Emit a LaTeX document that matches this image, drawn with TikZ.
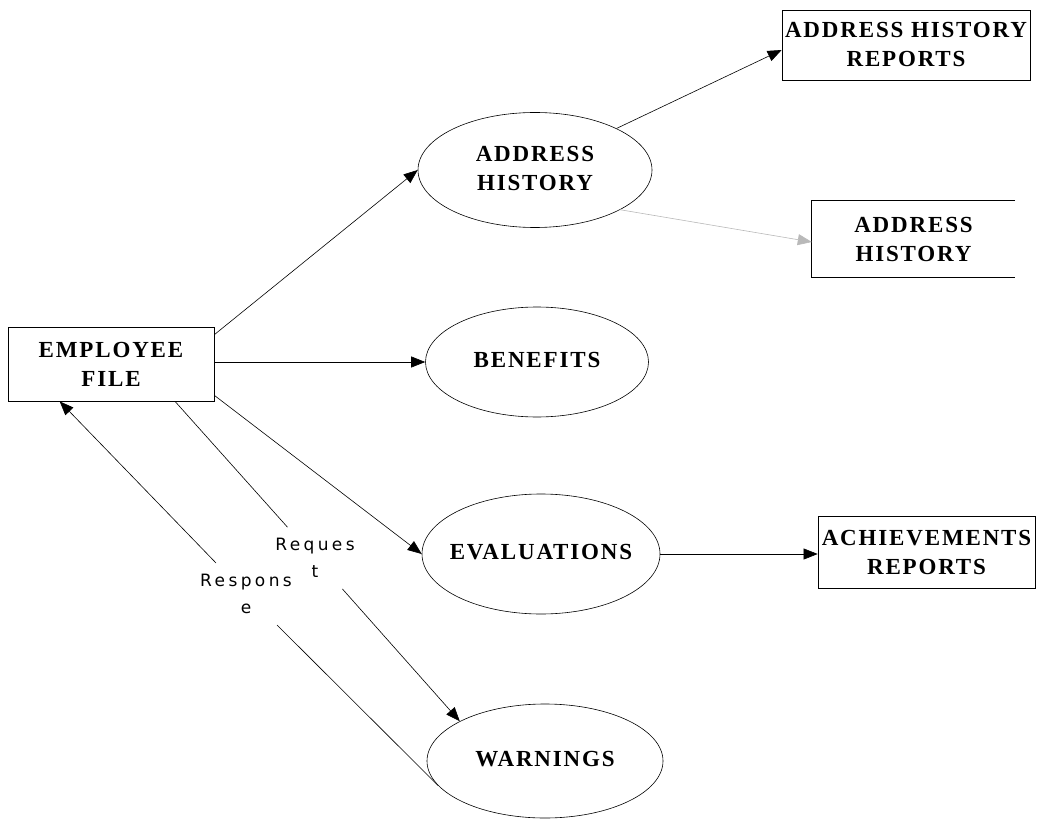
\documentclass[tikz,border=0pt]{standalone}
\usepackage{fontspec}
\usetikzlibrary{arrows.meta,shapes.geometric,calc}
\newfontfamily\boxfont{Liberation Serif}[LetterSpace=8]
\newfontfamily\lblfont{DejaVu Sans}[LetterSpace=20]
\newcommand\zbox[1]{\makebox[0pt]{\begin{tabular}{@{}c@{}}#1\end{tabular}}}
\tikzset{
  txt/.style={font=\boxfont\bfseries\fontsize{23}{29}\selectfont},
  ent/.style={txt, draw, line width=0.7pt, rectangle, inner sep=0pt, align=center},
  store/.style={txt, rectangle, inner sep=0pt, align=center},
  proc/.style={txt, draw, line width=0.6pt, ellipse, inner sep=0pt},
  flow/.style={line width=0.6pt, -{Triangle[length=14pt,width=11pt]}},
  plain/.style={line width=0.6pt},
  lbl/.style={font=\lblfont\fontsize{17}{27}\selectfont, align=center, inner xsep=2pt, inner ysep=11pt}
}
\begin{document}
\begin{tikzpicture}[x=1pt,y=-1pt]
\useasboundingbox (0,0) rectangle (1041,821);

% nodes
\node[ent, minimum width=206pt, minimum height=74pt] (emp) at (111,364) {EMPLOYEE\\FILE};
\node[proc, minimum width=234pt, minimum height=115pt] (ah) at (535,170) {\zbox{ADDRESS\\HISTORY}};
\node[proc, minimum width=223pt, minimum height=110pt] (ben) at (537,362) {\zbox{BENEFITS}};
\node[proc, minimum width=238pt, minimum height=120pt] (eval) at (541,554) {\zbox{EVALUATIONS}};
\node[proc, minimum width=236pt, minimum height=114pt] (warn) at (545,761) {\zbox{WARNINGS}};
\node[ent, minimum width=248pt, minimum height=70pt] (ahr) at (906,45) {ADDRESS HISTORY\\REPORTS};
\node[store, minimum width=203pt, minimum height=76pt] (ahd) at (913.5,239) {ADDRESS\\HISTORY};
\node[ent, minimum width=217pt, minimum height=72pt] (ach) at (926.5,552) {ACHIEVEMENTS\\REPORTS};

% open-ended store
\draw[line width=0.7pt] (ahd.north east) -- (ahd.north west) -- (ahd.south west) -- (ahd.south east);

% labels
\node[lbl] (req) at (315,558) {Reques\\t};
\node[lbl] (resp) at (246,594) {Respons\\e};

% connectors
\draw[flow] ([yshift=-8pt]emp.north east) -- (ah.west);
\draw[flow] (emp.east |- ben.west) -- (ben.west);
\draw[flow] ([yshift=6pt]emp.south east) -- (eval.west);
\draw[plain] ([xshift=64pt]emp.south) -- (req);
\draw[flow] (req) -- (warn.155);
\draw[plain] (warn.193) -- (resp);
\draw[flow] (resp) -- ([xshift=52pt]emp.south west);
\draw[flow] (ah.27) -- ([yshift=-5pt]ahr.west);
\draw[flow, draw=gray!55] (ah.-25) -- ([yshift=-3pt]ahd.west);
\draw[flow] (eval.east) -- (eval.east -| ach.west);
\end{tikzpicture}
\end{document}
